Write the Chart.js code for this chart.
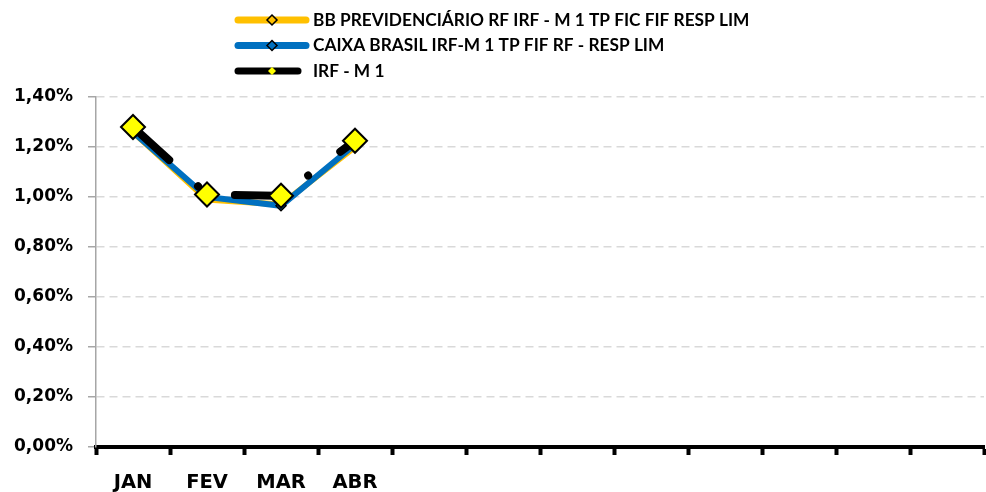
<!DOCTYPE html>
<html>
<head>
<meta charset="utf-8">
<script src="https://cdn.jsdelivr.net/npm/chart.js@4.4.1/dist/chart.umd.min.js"></script>
<style>
  html, body { margin: 0; padding: 0; background: #ffffff; }
  #caixa { width: 986px; height: 492px; }
</style>
</head>
<body>
<div id="caixa"><canvas id="grafico" width="986" height="492"></canvas></div>
<script>
// Dados do gráfico (rentabilidade mensal, em %)
const meses = ["JAN", "FEV", "MAR", "ABR", "", "", "", "", "", "", "", ""];
const bbPrevidenciario = [1.26, 0.99, 0.97, 1.20, null, null, null, null, null, null, null, null];
const caixaBrasil = [1.26, 1.00, 0.965, 1.21, null, null, null, null, null, null, null, null];
const irfM1 = [1.28, 1.01, 1.005, 1.225, null, null, null, null, null, null, null, null];
const ticksY = [0, 0.2, 0.4, 0.6, 0.8, 1.0, 1.2, 1.4];

const fonteLegenda = "Lato";
const fonteEixos = "DejaVu Sans";

// Formata número no padrão brasileiro: 1,40%
function formataPct(v) {
  return v.toFixed(2).replace(".", ",") + "%";
}

// Legenda em coluna, como no Excel (linha + marcador + texto)
const legendaColuna = {
  id: "legendaColuna",
  afterDraw(chart) {
    const ctx = chart.ctx;
    const itens = chart.data.datasets;
    itens.forEach((ds, i) => {
      const y = 20 + i * 25.5;
      ctx.save();
      ctx.strokeStyle = ds.borderColor;
      ctx.lineWidth = 7;
      ctx.lineCap = "round";
      ctx.beginPath();
      ctx.moveTo(238, y);
      ctx.lineTo(i === 2 ? 298 : 306, y);
      ctx.stroke();
      // marcador em losango
      const r = i === 2 ? 4 : 5;
      ctx.beginPath();
      ctx.moveTo(272, y - r);
      ctx.lineTo(272 + r, y);
      ctx.lineTo(272, y + r);
      ctx.lineTo(272 - r, y);
      ctx.closePath();
      ctx.fillStyle = ds.legendaMarcador;
      ctx.fill();
      if (i !== 2) {
        ctx.lineWidth = 1.5;
        ctx.lineCap = "butt";
        ctx.strokeStyle = "#000000";
        ctx.stroke();
      }
      ctx.fillStyle = "#000000";
      ctx.font = "bold 17.3px " + fonteLegenda;
      ctx.textBaseline = "middle";
      ctx.textAlign = "left";
      ctx.fillText(ds.label, 313, y);
      ctx.restore();
    });
  }
};

const ctx = document.getElementById("grafico").getContext("2d");
new Chart(ctx, {
  type: "line",
  data: {
    labels: meses,
    datasets: [
      {
        label: "BB PREVIDENCIÁRIO RF IRF - M 1 TP FIC FIF RESP LIM",
        data: bbPrevidenciario,
        borderColor: "#FFC000",
        backgroundColor: "#FFC000",
        borderWidth: 6,
        pointStyle: "rectRot",
        pointRadius: 5,
        pointBackgroundColor: "#FFC000",
        pointBorderColor: "#000000",
        pointBorderWidth: 1.5,
        legendaMarcador: "#FFC000",
        order: 3
      },
      {
        label: "CAIXA BRASIL IRF-M 1 TP FIF RF - RESP LIM",
        data: caixaBrasil,
        borderColor: "#0070C0",
        backgroundColor: "#0070C0",
        borderWidth: 6,
        pointStyle: "rectRot",
        pointRadius: 5,
        pointBackgroundColor: "#0070C0",
        pointBorderColor: "#000000",
        pointBorderWidth: 1.5,
        legendaMarcador: "#0070C0",
        order: 2
      },
      {
        label: "IRF - M 1",
        data: irfM1,
        borderColor: "#000000",
        backgroundColor: "#000000",
        borderWidth: 8,
        borderDash: [41, 39, 0.01, 40],
        borderDashOffset: 112,
        borderCapStyle: "round",
        borderJoinStyle: "round",
        pointStyle: "rectRot",
        pointRadius: 12,
        pointBackgroundColor: "#FFFF00",
        pointBorderColor: "#000000",
        pointBorderWidth: 2,
        legendaMarcador: "#FFFF00",
        order: 1
      }
    ]
  },
  options: {
    responsive: false,
    animation: false,
    devicePixelRatio: 1,
    layout: { autoPadding: false, padding: { top: 97, right: 2, left: 0, bottom: 0 } },
    plugins: {
      legend: { display: false },
      tooltip: { enabled: false }
    },
    scales: {
      x: {
        offset: true,
        afterFit(scale) {
          scale.height = 45;
          scale.paddingLeft = 0;
          scale.paddingRight = 0;
        },
        grid: {
          offset: true,
          drawOnChartArea: false,
          drawTicks: true,
          tickLength: 8,
          tickWidth: 4,
          tickColor: "#000000",
          color: "#000000"
        },
        border: { display: true, color: "#000000", width: 4 },
        ticks: {
          autoSkip: false,
          maxRotation: 0,
          padding: 16,
          color: "#000000",
          font: { family: fonteEixos, size: 19.5, weight: "bold" }
        }
      },
      y: {
        min: 0,
        max: 1.4,
        afterFit(scale) { scale.width = 96; },
        afterBuildTicks(scale) { scale.ticks = ticksY.map(v => ({ value: v })); },
        grid: {
          color: (c) => (c.tick && c.tick.value === 0 ? "rgba(0,0,0,0)" : "#d9d9d9"),
          lineWidth: 1.5,
          tickColor: "#a6a6a6",
          tickLength: 8,
          tickWidth: 1.5,
          tickBorderDash: []
        },
        border: { display: true, color: "#a6a6a6", width: 1.5, dash: [8, 5] },
        ticks: {
          padding: 15,
          color: "#000000",
          font: { family: fonteEixos, size: 17, weight: "bold" },
          callback: (v) => formataPct(v)
        }
      }
    }
  },
  plugins: [legendaColuna]
});
</script>
</body>
</html>
